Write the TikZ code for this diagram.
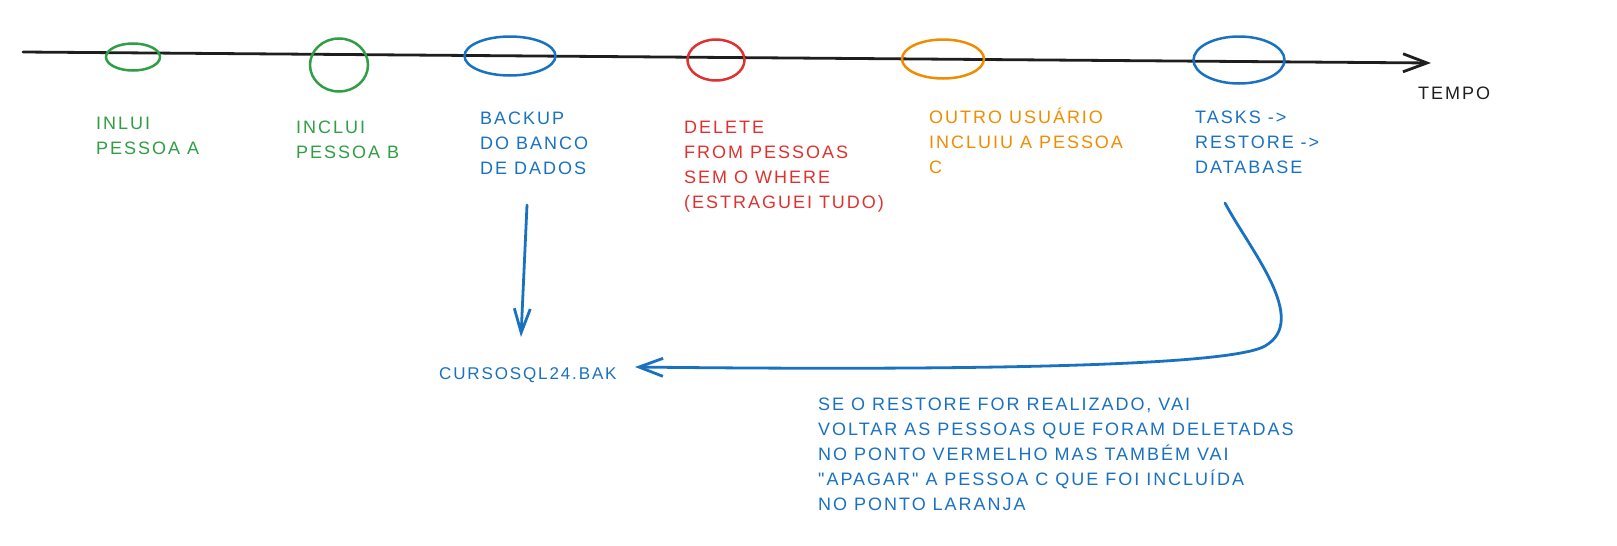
\documentclass[tikz,border=0pt]{standalone}
\usepackage{fontspec}
\setmainfont{Liberation Sans}[LetterSpace=11,Ligatures=TeXOff]
\usetikzlibrary{arrows.meta,shapes.geometric}

\definecolor{skgreen}{HTML}{2F9E44}
\definecolor{skblue}{HTML}{1971C2}
\definecolor{skred}{HTML}{E03131}
\definecolor{skorange}{HTML}{F08C00}
\definecolor{skblack}{HTML}{1E1E1E}

\begin{document}
\begin{tikzpicture}[x=1pt,y=-1pt,
    dot/.style={ellipse,draw,line width=2.5pt,inner sep=0pt},
    lbl/.style={anchor=north west,inner sep=0pt,align=left,
      font=\fontsize{18}{25}\selectfont},
    barb/.style={-{Straight Barb[length=24pt,width=18pt]}},
    skline/.style={line width=2.8pt,line cap=round}]

    \useasboundingbox (0,0) rectangle (1617,546);

    % Time axis
    \coordinate (tstart) at (23,52);
    \coordinate (tend) at (1431,63);
    \draw[skline,skblack,barb] (tstart) -- (tend);
    \node[lbl,skblack] (tempo) at (1418,87) {TEMPO};

    % Insert person A
    \node[dot,skgreen,minimum width=54,minimum height=27] (pa) at (133,57) {};
    \node[lbl,skgreen] (patxt) at (96,117) {INLUI\\PESSOA A};

    % Insert person B
    \node[dot,skgreen,minimum width=58,minimum height=53] (pb) at (339,65) {};
    \node[lbl,skgreen] (pbtxt) at (296,121) {INCLUI\\PESSOA B};

    % Backup
    \node[dot,skblue,minimum width=91,minimum height=39] (bak) at (510,56) {};
    \node[lbl,skblue] (baktxt) at (480,112) {BACKUP\\DO BANCO\\DE DADOS};

    % Delete without where
    \node[dot,skred,minimum width=57,minimum height=41] (del) at (716,60) {};
    \node[lbl,skred] (deltxt) at (684,121) {DELETE\\FROM PESSOAS\\SEM O WHERE\\(ESTRAGUEI TUDO)};

    % Other user inserts C
    \node[dot,skorange,minimum width=82,minimum height=39] (pc) at (943,59) {};
    \node[lbl,skorange] (pctxt) at (929,108) {OUTRO USUÁRIO\\INCLUIU A PESSOA\\C};

    % Restore
    \node[dot,skblue,minimum width=91,minimum height=47] (rst) at (1239,60) {};
    \node[lbl,skblue] (rsttxt) at (1195,111) {TASKS ->\\RESTORE ->\\DATABASE};

    % Backup file
    \node[lbl,skblue,font=\fontsize{17}{22}\selectfont] (bakfile) at (439,367) {CURSOSQL24.BAK};
    \coordinate (bakstart) at (527,205);
    \coordinate (bakend) at (521,337);
    \draw[skline,skblue,-{Straight Barb[length=24pt,width=16pt]}] (bakstart) -- (bakend);

    % Restore back to the file
    \coordinate (rststart) at (1225,203);
    \coordinate (rstend) at (635,367);
    \draw[skline,skblue,barb] (rststart) .. controls (1250,250) and (1310,320) .. (1265,346)
      .. controls (1225,369) and (900,370) .. (rstend);

    \node[lbl,skblue] (note) at (818,398) {SE O RESTORE FOR REALIZADO, VAI\\VOLTAR AS PESSOAS QUE FORAM DELETADAS\\NO PONTO VERMELHO MAS TAMBÉM VAI\\"APAGAR" A PESSOA C QUE FOI INCLUÍDA\\NO PONTO LARANJA};

\end{tikzpicture}
\end{document}
